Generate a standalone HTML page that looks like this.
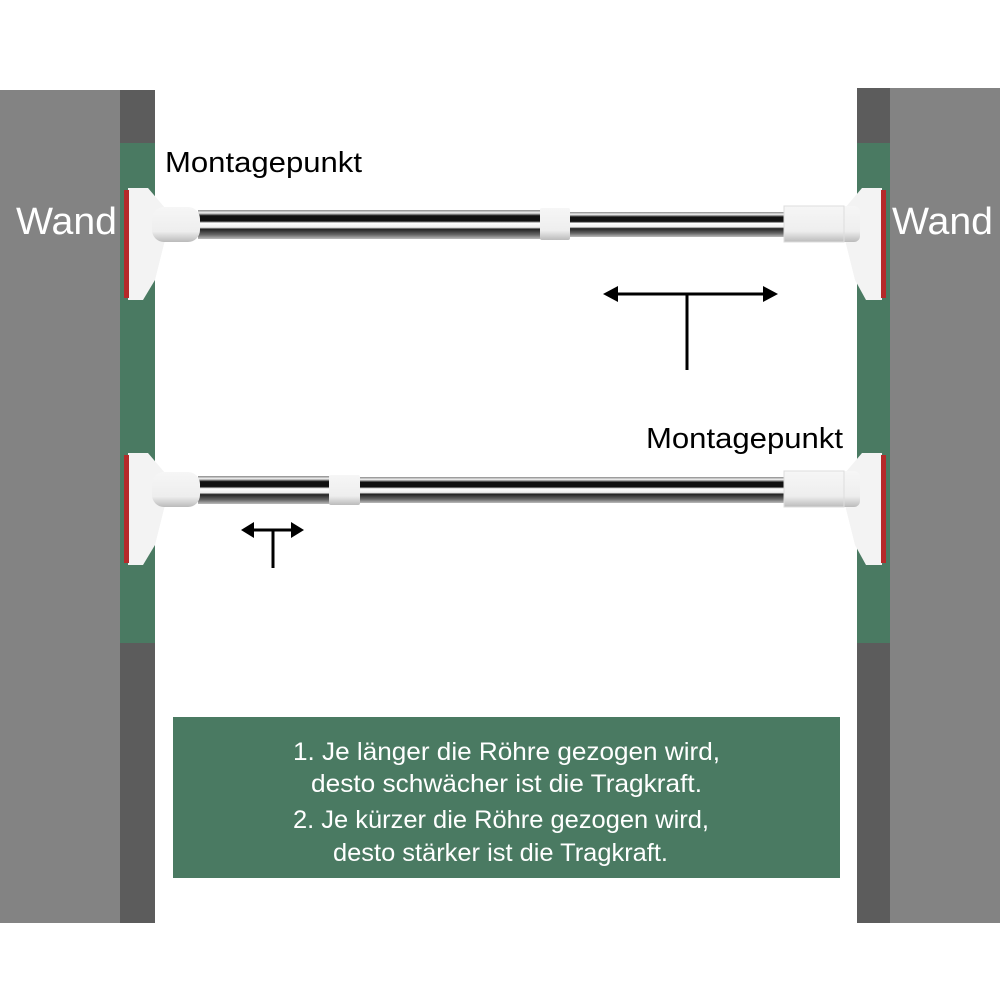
<!DOCTYPE html>
<html><head><meta charset="utf-8"><style>
html,body{margin:0;padding:0;background:#fff;}
svg{display:block;font-family:"Liberation Sans",sans-serif;}
</style></head><body>
<svg width="1000" height="1000" viewBox="0 0 1000 1000" xmlns="http://www.w3.org/2000/svg">
<defs>
<linearGradient id="rod" x1="0" y1="0" x2="0" y2="1">
<stop offset="0" stop-color="#888"/><stop offset="0.1" stop-color="#f4f4f4"/><stop offset="0.2" stop-color="#111"/><stop offset="0.38" stop-color="#111"/><stop offset="0.45" stop-color="#fff"/><stop offset="0.6" stop-color="#eee"/><stop offset="0.66" stop-color="#222"/><stop offset="0.85" stop-color="#666"/><stop offset="1" stop-color="#bbb"/>
</linearGradient>
<linearGradient id="cap" x1="0" y1="0" x2="0" y2="1">
<stop offset="0" stop-color="#f6f6f6"/><stop offset="0.7" stop-color="#eee"/><stop offset="1" stop-color="#bbb"/>
</linearGradient>
</defs>
<rect x="0" y="90" width="120" height="833" fill="#838383"/>
<rect x="120" y="90" width="35" height="833" fill="#5c5c5c"/>
<rect x="120" y="143" width="35" height="500" fill="#4a7a62"/>
<rect x="890" y="88" width="110" height="835" fill="#838383"/>
<rect x="857" y="88" width="33" height="835" fill="#5c5c5c"/>
<rect x="857" y="143" width="33" height="500" fill="#4a7a62"/>
<text x="16" y="234" font-size="38" fill="#fff" textLength="101" lengthAdjust="spacingAndGlyphs">Wand</text>
<text x="892" y="234" font-size="38" fill="#fff" textLength="101" lengthAdjust="spacingAndGlyphs">Wand</text>

<rect x="198" y="210" width="345" height="29" fill="url(#rod)"/>
<rect x="568" y="212" width="220" height="25" fill="url(#rod)"/>
<rect x="540" y="208" width="30" height="32" rx="2" fill="url(#cap)"/>
<path d="M128,188 L148,188 L165,208 L165,240 L155,280 L143,300 L128,300 Z" fill="#f3f3f3"/>
<rect x="124" y="190" width="5" height="108" fill="#b52a2a"/>
<rect x="152" y="207" width="48" height="35" rx="12" fill="url(#cap)"/>
<path d="M882,188 L862,188 L845,208 L845,240 L855,280 L866,300 L882,300 Z" fill="#f3f3f3"/>
<rect x="881" y="190" width="5" height="108" fill="#b52a2a"/>
<rect x="784" y="206" width="76" height="36" rx="6" fill="url(#cap)"/>
<rect x="784" y="206" width="60" height="36" fill="url(#cap)" stroke="#ddd"/>

<rect x="198" y="476" width="135" height="28" fill="url(#rod)"/>
<rect x="358" y="477" width="430" height="26" fill="url(#rod)"/>
<rect x="329" y="475" width="31" height="30" rx="2" fill="url(#cap)"/>
<path d="M128,453 L148,453 L165,473 L165,505 L155,545 L143,565 L128,565 Z" fill="#f3f3f3"/>
<rect x="124" y="455" width="5" height="108" fill="#b52a2a"/>
<rect x="152" y="472" width="48" height="35" rx="12" fill="url(#cap)"/>
<path d="M882,453 L862,453 L845,473 L845,505 L855,545 L866,565 L882,565 Z" fill="#f3f3f3"/>
<rect x="881" y="455" width="5" height="108" fill="#b52a2a"/>
<rect x="784" y="471" width="76" height="36" rx="6" fill="url(#cap)"/>
<rect x="784" y="471" width="60" height="36" fill="url(#cap)" stroke="#ddd"/>

<text x="165" y="172" font-size="29" fill="#000" textLength="197" lengthAdjust="spacingAndGlyphs">Montagepunkt</text>
<text x="646" y="448" font-size="29" fill="#000" textLength="197" lengthAdjust="spacingAndGlyphs">Montagepunkt</text>

<line x1="615" y1="294" x2="765" y2="294" stroke="#000" stroke-width="3"/>
<polygon points="603,294 618,286 618,302" fill="#000"/>
<polygon points="778,294 763,286 763,302" fill="#000"/>
<line x1="687" y1="294" x2="687" y2="370" stroke="#000" stroke-width="3"/>
<line x1="250" y1="530" x2="295" y2="530" stroke="#000" stroke-width="3"/>
<polygon points="241,530 254,522 254,538" fill="#000"/>
<polygon points="304,530 291,522 291,538" fill="#000"/>
<line x1="273" y1="530" x2="273" y2="568" stroke="#000" stroke-width="3"/>

<rect x="173" y="717" width="667" height="161" fill="#4a7a62"/>
<g font-size="25" fill="#fff">
<text x="293" y="760" textLength="427" lengthAdjust="spacingAndGlyphs">1. Je länger die Röhre gezogen wird,</text>
<text x="311" y="792" textLength="391" lengthAdjust="spacingAndGlyphs">desto schwächer ist die Tragkraft.</text>
<text x="293" y="828" textLength="416" lengthAdjust="spacingAndGlyphs">2. Je kürzer die Röhre gezogen wird,</text>
<text x="333" y="861" textLength="335" lengthAdjust="spacingAndGlyphs">desto stärker ist die Tragkraft.</text>
</g>
</svg>
</body></html>
